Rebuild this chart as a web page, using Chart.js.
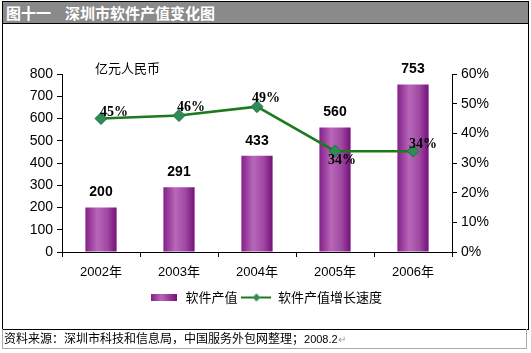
<!DOCTYPE html>
<html>
<head>
<meta charset="utf-8">
<script src="https://cdn.jsdelivr.net/npm/chart.js@4.4.1/dist/chart.umd.min.js"></script>
<style>
  body { margin: 0; width: 531px; height: 353px; background: #fff; position: relative; overflow: hidden; font-family: "Liberation Sans", Arial, sans-serif; }
  #frame { position: absolute; left: 2px; top: 1px; width: 525px; height: 327px; border: 1px solid #000; }
  #title { position: absolute; left: 3px; top: 2px; width: 525px; height: 21px; background: #8a8a8a; border-bottom: 1px solid #000;
           color: #fff; font: bold 15px "Noto Sans CJK SC", sans-serif; line-height: 21px; }
  #title span { position: absolute; top: 0; }
  #foot { position: absolute; left: 2px; top: 329px; width: 525px; height: 20px; border: 1px solid #aaa; border-top: none;
          font: 12px "Noto Sans CJK SC", sans-serif; line-height: 17px; color: #000; padding-left: 1px; box-sizing: border-box; }
  #unit { position: absolute; left: 95px; top: 58px; font: 13px "Noto Sans CJK SC", sans-serif; color: #000; }
  #wrap { position: absolute; left: 0; top: 0; width: 531px; height: 353px; }
</style>
</head>
<body>
<div id="frame"></div>
<div id="title"><span style="left:3px">图十一</span><span style="left:62px">深圳市软件产值变化图</span></div>
<div id="wrap"><canvas id="c" width="531" height="353"></canvas></div>
<div id="unit">亿元人民币</div>
<div id="foot">资料来源：深圳市科技和信息局，中国服务外包网整理；<span style="font-family:'Liberation Sans';font-size:11px">2008.2</span><span style="color:#999;font-size:10px">↵</span></div>
<script>
const years = ['2002年', '2003年', '2004年', '2005年', '2006年'];
const output = [200, 291, 433, 560, 753];
const growth = [45, 46, 49, 34, 34];
const leftTicks = [0, 100, 200, 300, 400, 500, 600, 700, 800];
const rightTicks = [0, 10, 20, 30, 40, 50, 60];

// horizontal gradient across each bar
function barGradient(ctx) {
  const chart = ctx.chart;
  const x = chart.scales && chart.scales.x;
  if (!x || !isFinite(x.left)) return '#9a3a9a';
  const cw = (x.right - x.left) / years.length;
  const w = cw * 0.4;
  const cx = x.getPixelForValue(ctx.dataIndex);
  if (!isFinite(cx)) return '#9a3a9a';
  const g = chart.ctx.createLinearGradient(cx - w / 2, 0, cx + w / 2, 0);
  g.addColorStop(0, '#84208a');
  g.addColorStop(0.38, '#b867b8');
  g.addColorStop(0.7, '#a04aa4');
  g.addColorStop(1, '#75107a');
  return g;
}

function legendBar() {
  const c = document.createElement('canvas');
  c.width = 26; c.height = 7;
  const k = c.getContext('2d');
  const g = k.createLinearGradient(0, 0, 26, 0);
  g.addColorStop(0, '#84208a'); g.addColorStop(0.4, '#b867b8'); g.addColorStop(1, '#75107a');
  k.fillStyle = g; k.fillRect(0, 0, 26, 7);
  return c;
}
function legendLine() {
  const c = document.createElement('canvas');
  c.width = 30; c.height = 10;
  const k = c.getContext('2d');
  k.strokeStyle = '#1c7a1c'; k.lineWidth = 2;
  k.beginPath(); k.moveTo(0, 5); k.lineTo(30, 5); k.stroke();
  k.fillStyle = '#2e8b57';
  k.beginPath(); k.moveTo(15, 1); k.lineTo(19, 5); k.lineTo(15, 9); k.lineTo(11, 5); k.closePath(); k.fill();
  return c;
}

// value labels: bars above, growth labels beside points
const labelPlugin = {
  id: 'labels',
  afterDatasetsDraw(chart) {
    const ctx = chart.ctx;
    ctx.save();
    ctx.textAlign = 'center';
    ctx.textBaseline = 'middle';
    ctx.fillStyle = '#000';
    ctx.font = 'bold 14px "Liberation Sans", Arial, sans-serif';
    chart.getDatasetMeta(1).data.forEach((el, i) => {
      ctx.fillText(String(output[i]), el.x, el.y - 15);
    });
    const offs = [[13, -6], [12, -8], [9, -8], [7, 9], [10, -7]];
    ctx.font = 'bold 14px "Liberation Serif", "Times New Roman", serif';
    chart.getDatasetMeta(0).data.forEach((el, i) => {
      ctx.fillText(growth[i] + '%', el.x + offs[i][0], el.y + offs[i][1]);
    });
    ctx.restore();
  }
};

new Chart(document.getElementById('c'), {
  data: {
    labels: years,
    datasets: [
      {
        type: 'line', label: '软件产值增长速度', data: growth, yAxisID: 'y1',
        borderColor: '#1c7a1c', borderWidth: 2.5, pointStyle: 'rectRot', pointRadius: 6,
        pointBackgroundColor: '#2e8b57', pointBorderColor: '#1f6f3f', pointBorderWidth: 1,
        tension: 0, order: 0
      },
      {
        type: 'bar', label: '软件产值', data: output, yAxisID: 'y',
        backgroundColor: barGradient, barPercentage: 0.4, categoryPercentage: 1, order: 1
      }
    ]
  },
  options: {
    responsive: false,
    animation: false,
    layout: { padding: { top: 74, left: 0, right: 0, bottom: 39 } },
    plugins: {
      tooltip: { enabled: false },
      legend: {
        position: 'bottom',
        labels: {
          usePointStyle: true, pointStyleWidth: 30, padding: 4, color: '#000',
          font: { size: 13, family: '"Noto Sans CJK SC", sans-serif' },
          generateLabels(chart) {
            return [
              { text: '软件产值', pointStyle: legendBar(), datasetIndex: 1, lineWidth: 0, fillStyle: 'transparent', strokeStyle: 'transparent' },
              { text: '软件产值增长速度', pointStyle: legendLine(), datasetIndex: 0, lineWidth: 0, fillStyle: 'transparent', strokeStyle: 'transparent' }
            ];
          }
        }
      }
    },
    scales: {
      x: {
        offset: true,
        grid: { offset: true, drawOnChartArea: false, drawTicks: true, tickLength: 5, color: '#000' },
        border: { color: '#000', width: 1 },
        ticks: { color: '#000', font: { size: 13, family: '"Liberation Sans", "Noto Sans CJK SC", sans-serif' }, padding: 8 },
        afterFit(s) { s.height = 35; }
      },
      y: {
        position: 'left', min: 0, max: 800,
        afterBuildTicks(s) { s.ticks = leftTicks.map(v => ({ value: v })); },
        grid: { drawOnChartArea: false, tickLength: 5, color: '#000' },
        border: { color: '#000', width: 1 },
        ticks: { color: '#000', font: { size: 14, family: '"Liberation Sans", Arial, sans-serif' }, padding: 4 },
        afterFit(s) { s.width = 62; }
      },
      y1: {
        position: 'right', min: 0, max: 60,
        afterBuildTicks(s) { s.ticks = rightTicks.map(v => ({ value: v })); },
        grid: { drawOnChartArea: false, tickLength: 5, color: '#000' },
        border: { color: '#000', width: 1 },
        ticks: { color: '#000', font: { size: 14, family: '"Liberation Sans", Arial, sans-serif' }, padding: 4,
                 callback: v => v + '%' },
        afterFit(s) { s.width = 79; }
      }
    }
  },
  plugins: [labelPlugin]
});
</script>
</body>
</html>
